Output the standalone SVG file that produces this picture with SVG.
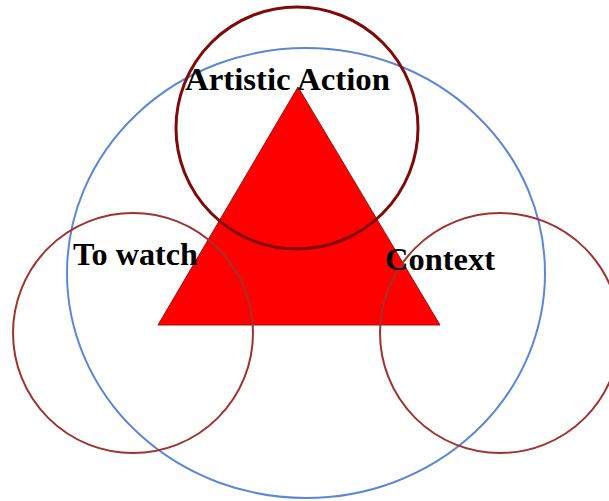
<svg xmlns="http://www.w3.org/2000/svg" width="609" height="501" viewBox="0 0 609 501">
<style>
.lbl{font-family:"Liberation Serif","Times New Roman",serif;font-weight:bold;font-size:31px;fill:#000}
.ring{fill:none;stroke:#a0322f;stroke-width:2}
</style>
<rect width="609" height="501" fill="#fff"/>
<g id="triangle"><polygon points="298,87 158,325 440,325" fill="#ff0000" stroke="#9a1010" stroke-width="1"/></g>
<g id="outer"><ellipse cx="306" cy="273" rx="239" ry="225" fill="none" stroke="#5b87d6" stroke-width="2"/></g>
<g id="artistic"><circle cx="297" cy="128" r="121" fill="none" stroke="#7f0a0a" stroke-width="3"/><text class="lbl" x="185" y="90" textLength="205" lengthAdjust="spacingAndGlyphs">Artistic Action</text></g>
<g id="watch"><circle cx="133" cy="333" r="120" class="ring"/><text class="lbl" x="73" y="265" textLength="125" lengthAdjust="spacingAndGlyphs">To watch</text></g>
<g id="context"><circle cx="500" cy="333" r="120" class="ring"/><text class="lbl" x="385" y="270" textLength="110" lengthAdjust="spacingAndGlyphs">Context</text></g>
<g id="connectors"/>
</svg>
